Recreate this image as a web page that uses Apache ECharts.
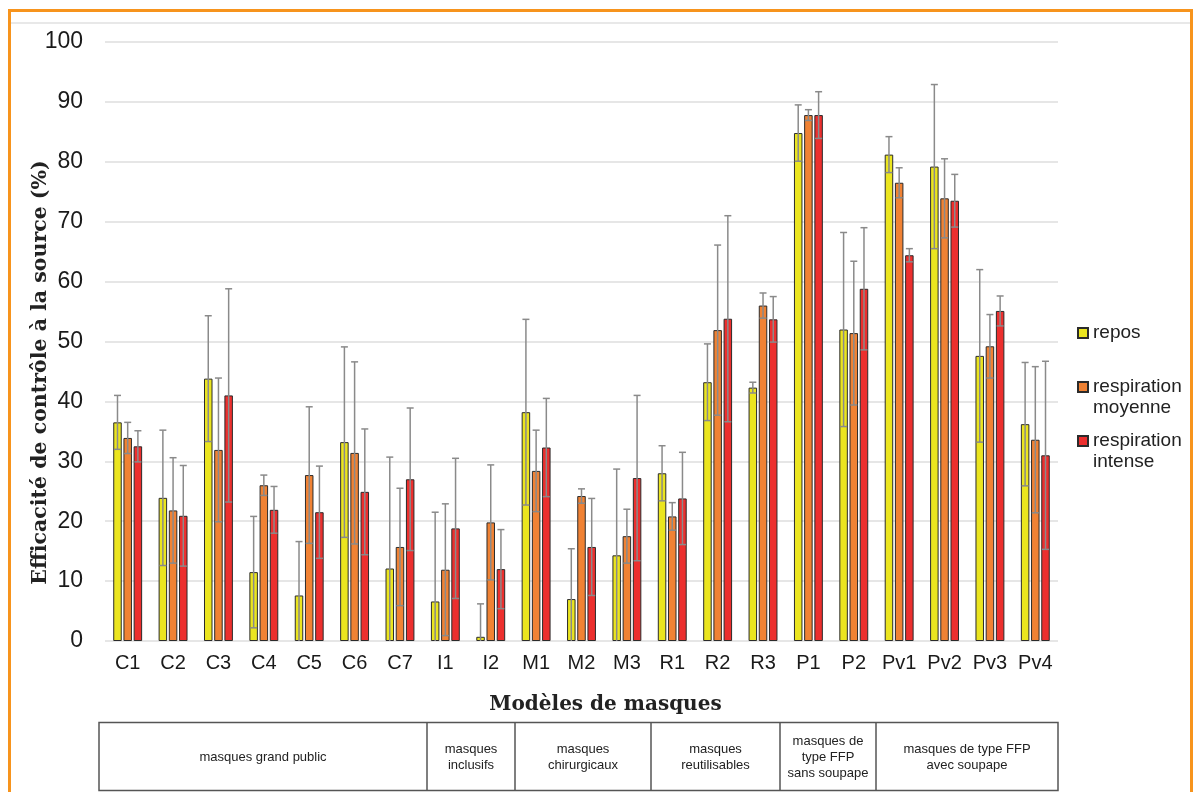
<!DOCTYPE html>
<html>
<head>
<meta charset="utf-8">
<script src="https://cdn.jsdelivr.net/npm/echarts@6/dist/echarts.min.js"></script>
<style>
  html, body { margin: 0; padding: 0; background: #fff; }
  #chart { width: 1196px; height: 792px; }
</style>
</head>
<body>
<div id="chart"></div>
<script>
// modèles de masques
const categories = ['C1', 'C2', 'C3', 'C4', 'C5', 'C6', 'C7', 'I1', 'I2', 'M1', 'M2', 'M3', 'R1', 'R2', 'R3', 'P1', 'P2', 'Pv1', 'Pv2', 'Pv3', 'Pv4'];

// efficacité (%) et écart (±)
const repos = [36.5, 23.9, 43.8, 11.5, 7.6, 33.2, 12.1, 6.6, 0.7, 38.2, 7.0, 14.3, 28.0, 43.2, 42.3, 84.8, 52.0, 81.2, 79.2, 47.6, 36.2];
const reposErr = [4.5, 11.3, 10.5, 9.3, 9.0, 15.9, 18.6, 14.9, 5.5, 15.5, 8.4, 14.4, 4.6, 6.4, 0.9, 4.7, 16.2, 3.0, 13.7, 14.4, 10.3];

const moyenne = [33.9, 21.8, 31.9, 26.0, 27.7, 31.4, 15.7, 11.9, 19.8, 28.4, 24.2, 17.5, 20.8, 51.9, 56.0, 87.8, 51.4, 76.5, 73.9, 49.2, 33.6];
const moyenneErr = [2.6, 8.8, 12.0, 1.7, 11.4, 15.2, 9.8, 11.0, 9.6, 6.8, 1.2, 4.5, 2.3, 14.2, 2.1, 0.9, 12.0, 2.5, 6.6, 5.3, 12.2];

const intense = [32.5, 20.9, 41.0, 21.9, 21.5, 24.9, 27.0, 18.8, 12.0, 32.3, 15.7, 27.2, 23.8, 53.8, 53.7, 87.8, 58.8, 64.4, 73.5, 55.1, 31.0];
const intenseErr = [2.6, 8.4, 17.8, 3.9, 7.7, 10.5, 11.9, 11.7, 6.6, 8.2, 8.1, 13.8, 7.7, 17.2, 3.8, 3.9, 10.2, 1.1, 4.4, 2.5, 15.7];

const yTicks = { min: 0, max: 100, interval: 10 };

// tableau des familles de masques (texte des cellules)
const groupLabels = ['masques grand public', 'masques\ninclusifs', 'masques\nchirurgicaux', 'masques\nreutilisables', 'masques de\ntype FFP\nsans soupape', 'masques de type FFP\navec soupape'];
const groupEdges = [99, 427, 515, 651, 780, 876, 1058];

const names = ['repos', 'respiration moyenne', 'respiration intense'];
const colors = ['#ebe51f', '#f08234', '#ec2f2e'];
const values = [repos, moyenne, intense];
const errors = [reposErr, moyenneErr, intenseErr];

const barW = 8.5;
const step = 10.2;
const font = '"Liberation Sans", Arial, sans-serif';
const serif = '"DejaVu Serif", serif';

const myChart = echarts.init(document.getElementById('chart'));

const barSeries = names.map((n, i) => ({
    name: n,
    type: 'bar',
    data: values[i],
    barWidth: barW,
    barGap: '20%',
    itemStyle: { color: colors[i], borderColor: '#2b2b2b', borderWidth: 1 },
    z: 2,
}));

// barres d'erreur
const errSeries = names.map((n, i) => ({
    type: 'custom',
    z: 3,
    silent: true,
    data: categories.map((c, k) => [k, values[i][k], errors[i][k]]),
    encode: { x: 0, y: 1 },
    renderItem: function (params, api) {
        const k = api.value(0);
        const v = api.value(1);
        const e = api.value(2);
        const lo = Math.max(0, v - e);
        const top = api.coord([k, v + e]);
        const bot = api.coord([k, lo]);
        const cx = top[0] + (i - 1) * step;
        const style = { stroke: '#8a8a8a', lineWidth: 1.5 };
        const children = [
            { type: 'line', shape: { x1: cx, y1: top[1], x2: cx, y2: bot[1] }, style },
            { type: 'line', shape: { x1: cx - 3.5, y1: top[1], x2: cx + 3.5, y2: top[1] }, style },
        ];
        if (lo > 0) {
            children.push({ type: 'line', shape: { x1: cx - 3.5, y1: bot[1], x2: cx + 3.5, y2: bot[1] }, style });
        }
        return { type: 'group', children };
    },
}));

const legendBase = {
    left: 1077,
    orient: 'vertical',
    padding: 0,
    icon: 'rect',
    itemWidth: 10,
    itemHeight: 10,
    selectedMode: false,
    textStyle: { fontFamily: font, fontSize: 19, color: '#222', lineHeight: 21 },
};

const graphics = [
    { type: 'rect', shape: { x: 9.5, y: 10.5, width: 1182, height: 800 }, style: { fill: 'none', stroke: '#f7941d', lineWidth: 3 }, z: 10 },
    { type: 'line', shape: { x1: 11, y1: 23, x2: 1191, y2: 23 }, style: { stroke: '#e0e0e0', lineWidth: 1.5 } },
    { type: 'rect', shape: { x: groupEdges[0], y: 722.5, width: groupEdges[6] - groupEdges[0], height: 68 }, style: { fill: 'none', stroke: '#555', lineWidth: 1.5 } },
];
for (let g = 1; g < groupEdges.length - 1; g++) {
    graphics.push({ type: 'line', shape: { x1: groupEdges[g], y1: 722.5, x2: groupEdges[g], y2: 790.5 }, style: { stroke: '#555', lineWidth: 1.5 } });
}
groupLabels.forEach((t, g) => {
    graphics.push({
        type: 'text',
        x: (groupEdges[g] + groupEdges[g + 1]) / 2,
        y: 757,
        style: { text: t, fontFamily: font, fontSize: 13, lineHeight: 16, fill: '#222', align: 'center', verticalAlign: 'middle' },
    });
});

// 2 lignes : la première alignée sur le carré
const twoLines = (n) => '\n' + n.replace(' ', '\n');

const option = {
    animation: false,
    backgroundColor: '#fff',
    grid: { left: 105, right: 138, top: 42, bottom: 151 },
    xAxis: {
        type: 'category',
        data: categories,
        name: 'Modèles de masques',
        nameLocation: 'middle',
        nameGap: 54,
        nameTextStyle: { fontFamily: serif, fontWeight: 'bold', fontSize: 20, color: '#222', padding: [0, 0, 0, 48] },
        axisLine: { show: false },
        axisTick: { show: false },
        axisLabel: { interval: 0, fontFamily: font, fontSize: 20, color: '#1a1a1a', margin: 12 },
    },
    yAxis: {
        type: 'value',
        min: yTicks.min,
        max: yTicks.max,
        interval: yTicks.interval,
        name: 'Efficacité de contrôle à la source (%)',
        nameLocation: 'middle',
        nameRotate: 90,
        nameGap: 54,
        nameMoveOverlap: false,
        nameTextStyle: { fontFamily: serif, fontWeight: 'bold', fontSize: 20.5, color: '#222', padding: [0, 62, 0, 0] },
        axisLine: { show: false },
        axisTick: { show: false },
        axisLabel: { fontFamily: font, fontSize: 23, color: '#1a1a1a', margin: 22 },
        splitLine: { lineStyle: { color: '#dedede', width: 1.5 } },
    },
    legend: [
        Object.assign({}, legendBase, { top: 322.5, data: ['repos'] }),
        Object.assign({}, legendBase, { top: 355.5, data: ['respiration moyenne'], formatter: twoLines }),
        Object.assign({}, legendBase, { top: 409.5, data: ['respiration intense'], formatter: twoLines }),
    ],
    series: barSeries.concat(errSeries),
    graphic: graphics,
};

myChart.setOption(option);
</script>
</body>
</html>
